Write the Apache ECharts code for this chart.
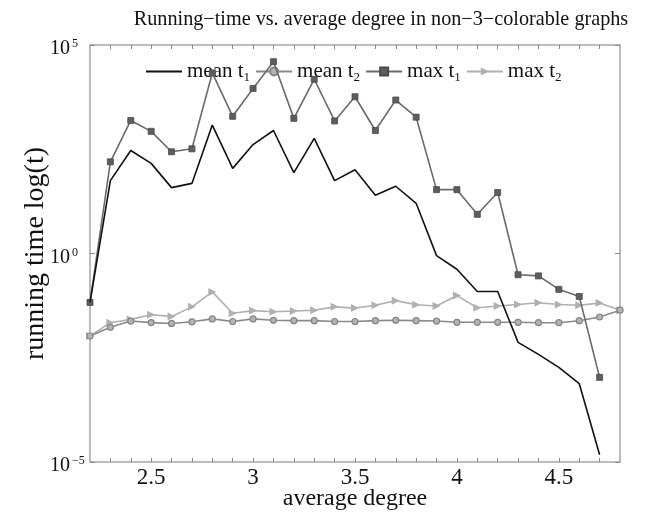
<!DOCTYPE html>
<html>
<head>
<meta charset="utf-8">
<script src="https://cdn.jsdelivr.net/npm/echarts@6/dist/echarts.min.js"></script>
<style>html,body{margin:0;padding:0;background:#fff}#c{width:649px;height:514px}</style>
</head>
<body>
<div id="c"></div>
<script>
var degrees = [2.2,2.3,2.4,2.5,2.6,2.7,2.8,2.9,3.0,3.1,3.2,3.3,3.4,3.5,3.6,3.7,3.8,3.9,4.0,4.1,4.2,4.3,4.4,4.5,4.6,4.7,4.8];
var meanT1 = [0.067,56,295,145,38,48,1200,110,410,890,87,575,56,102,25,41,16,0.89,0.42,0.123,0.123,0.0074,0.0038,0.00186,0.00076,0.000015,null];
var meanT2 = [0.0105,0.017,0.024,0.022,0.021,0.023,0.027,0.0234,0.027,0.025,0.0245,0.0245,0.0234,0.0234,0.0245,0.025,0.0245,0.024,0.0224,0.0224,0.0224,0.0224,0.0219,0.0219,0.0245,0.030,0.0437];
var maxT1 = [0.067,158,1550,850,275,324,21400,1950,9100,39800,1740,15100,1510,5750,890,4790,1860,34,34,8.7,29,0.31,0.29,0.138,0.093,0.00107,null];
var maxT2 = [0.0105,0.0219,0.0263,0.034,0.031,0.0525,0.12,0.037,0.0427,0.040,0.0417,0.0437,0.0525,0.049,0.0575,0.074,0.059,0.055,0.098,0.050,0.055,0.060,0.066,0.060,0.0575,0.0646,0.0437];
var xTickLabels = [2.5,3,3.5,4,4.5];
var xMinorTicks = [2.3,2.4,2.5,2.6,2.7,2.8,2.9,3.0,3.1,3.2,3.3,3.4,3.5,3.6,3.7,3.8,3.9,4.0,4.1,4.2,4.3,4.4,4.5,4.6,4.7];
var seriesNames = ['mean t1','mean t2','max t1','max t2'];

function pairs(arr){
  var out = [];
  for (var i = 0; i < degrees.length; i++) { if (arr[i] != null) out.push([degrees[i], arr[i]]); }
  return out;
}
var FONT = '"Liberation Serif", "DejaVu Serif", serif';
var axisColor = '#a6a6a6';
var chart = echarts.init(document.getElementById('c'), null, {renderer:'canvas'});
var option = {
  animation: false,
  backgroundColor: '#fff',
  title: {
    text: 'Running\u2212time vs. average degree in non\u22123\u2212colorable graphs',
    left: 376, top: 5, textAlign: 'center',
    textStyle: {fontFamily: FONT, fontSize: 20.2, fontWeight: 'normal', color: '#111'}
  },
  legend: {
    left: 140, top: 56,
    itemWidth: 36, itemHeight: 10, itemGap: 5,
    data: [{name: 'mean t1', itemStyle: {opacity: 0}}, 'mean t2', 'max t1', 'max t2'],
    formatter: function(n){ var p = n.split(' t'); return p[0] + ' t{s|' + p[1] + '}'; },
    textStyle: {fontFamily: FONT, fontSize: 21, color: '#111',
      rich: {s: {fontFamily: FONT, fontSize: 13, color: '#111', verticalAlign: 'bottom', padding: [12,0,0,0]}}}
  },
  grid: {left: 90, right: 29, top: 45, bottom: 52, outerBoundsMode: 'none', containLabel: false},
  xAxis: [{
    type: 'value', min: 2.2, max: 4.8,
    name: 'average degree', nameLocation: 'middle', nameGap: 25, nameMoveOverlap: false,
    nameTextStyle: {fontFamily: FONT, fontSize: 24, color: '#111'},
    axisLine: {show: true, lineStyle: {color: axisColor, width: 1.5}},
    axisTick: {show: true, inside: true, length: 4, customValues: xMinorTicks, lineStyle: {color: '#888'}},
    axisLabel: {customValues: xTickLabels, fontFamily: FONT, fontSize: 23, color: '#111', margin: 4},
    splitLine: {show: false}
  }, {
    type: 'value', min: 2.2, max: 4.8, position: 'top',
    axisLine: {show: true, lineStyle: {color: axisColor, width: 1.5}},
    axisTick: {show: true, inside: true, length: 4, customValues: xMinorTicks, lineStyle: {color: '#888'}},
    axisLabel: {show: false}, splitLine: {show: false}
  }],
  yAxis: [{
    type: 'log', logBase: 10, min: 1e-5, max: 1e5, interval: 5,
    name: 'running time log(t)', nameLocation: 'middle', nameGap: 40, nameMoveOverlap: false,
    nameTextStyle: {fontFamily: FONT, fontSize: 28, color: '#111'},
    axisLine: {show: true, lineStyle: {color: axisColor, width: 1.5}},
    axisTick: {show: true, inside: true, length: 5, lineStyle: {color: '#888'}},
    axisLabel: {
      fontFamily: FONT, fontSize: 20, color: '#111', margin: 40, align: 'left', padding: [8,0,0,0],
      formatter: function(v){ var e = Math.round(Math.log10(v)); return '{b|10}{s|' + (e < 0 ? '\u2212' : '') + Math.abs(e) + '}'; },
      rich: {b: {fontFamily: FONT, fontSize: 20, color: '#111'},
             s: {fontFamily: FONT, fontSize: 12, color: '#111', verticalAlign: 'top', padding: [0,0,10,2]}}
    },
    splitLine: {show: false}
  }, {
    type: 'log', logBase: 10, min: 1e-5, max: 1e5, interval: 5, position: 'right',
    axisLine: {show: true, lineStyle: {color: axisColor, width: 1.5}},
    axisTick: {show: true, inside: true, length: 5, lineStyle: {color: '#888'}},
    axisLabel: {show: false}, splitLine: {show: false}
  }],
  series: [{
    name: 'mean t1', type: 'line', data: pairs(meanT1),
    symbol: 'none', showSymbol: false,
    lineStyle: {color: '#111', width: 1.6}, itemStyle: {color: '#111'}, z: 5
  }, {
    name: 'mean t2', type: 'line', data: pairs(meanT2),
    symbol: 'circle', symbolSize: 6,
    lineStyle: {color: '#8a8a8a', width: 1.6},
    itemStyle: {color: '#b4b4b4', borderColor: '#858585', borderWidth: 1.2}, z: 3
  }, {
    name: 'max t1', type: 'line', data: pairs(maxT1),
    symbol: 'rect', symbolSize: 6,
    lineStyle: {color: '#6a6a6a', width: 1.6},
    itemStyle: {color: '#5e5e5e', borderColor: '#4a4a4a', borderWidth: 0.8}, z: 4
  }, {
    name: 'max t2', type: 'line', data: pairs(maxT2),
    symbol: 'triangle', symbolRotate: -90, symbolSize: 8,
    lineStyle: {color: '#b0b0b0', width: 1.6},
    itemStyle: {color: '#b0b0b0'}, z: 2
  }]
};
chart.setOption(option);
</script>
</body>
</html>
